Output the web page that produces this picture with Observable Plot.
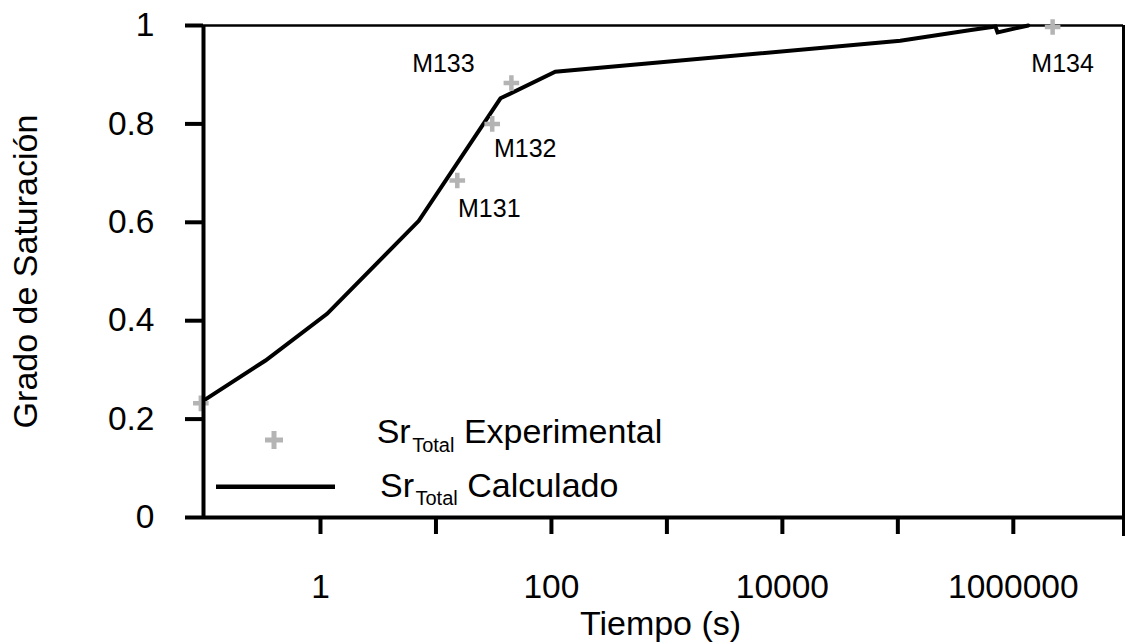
<!DOCTYPE html>
<html><head><meta charset="utf-8">
<script src="https://cdn.jsdelivr.net/npm/d3@7"></script>
<script src="https://cdn.jsdelivr.net/npm/@observablehq/plot@0.6"></script>
<style>
body{margin:0;background:#fff;}
#wrap{position:relative;width:1128px;height:642px;font-family:"Liberation Sans",Arial,sans-serif;}
#wrap svg{display:block;}
#legend{position:absolute;left:0;top:0;pointer-events:none;}
</style></head><body><div id="wrap"></div>
<script>
// Experimental points (time s, saturation)
const expTime = [0.092, 15.3, 30.7, 45, 2.19e6];
const expSr = [0.232, 0.685, 0.80, 0.883, 0.997];
const expLabels = ["", "M131", "M132", "M133", "M134"];
// Calculated curve
const calcTime = [0.092, 0.334, 1.14, 7.1, 36.2, 108, 1.05e5, 4.3e5, 7.0e5, 7.3e5, 1.35e6];
const calcSr = [0.234, 0.319, 0.414, 0.603, 0.852, 0.906, 0.969, 0.991, 0.998, 0.986, 1.0];
// Axes
const xTicks = [1, 10, 100, 1000, 10000, 100000, 1000000];
const xTickLabels = [1, 100, 10000, 1000000];
const yTicks = [0, 0.2, 0.4, 0.6, 0.8, 1];
const xDomain = [0.097, 9.0e6];
const yDomain = [0, 1];
const xTitle = "Tiempo (s)";
const yTitle = "Grado de Saturación";
const legendSeries = ["Experimental", "Calculado"];
const legendPrefix = "Sr";
const legendSub = "Total";

const FONT = '"Liberation Sans", Arial, sans-serif';
const GREY = "#b4b4b4";

const expData = expTime.map((t, i) => ({t, s: expSr[i], label: expLabels[i]}));
const calcData = calcTime.map((t, i) => ({t, s: calcSr[i]}));
const labelOffsets = {M131: [32, 29], M132: [33, 25], M133: [-68, -19], M134: [10, 37]};

const plusSymbol = {
  draw(ctx, size) {
    const r = Math.sqrt(size / Math.PI);
    ctx.moveTo(-r, 0); ctx.lineTo(r, 0);
    ctx.moveTo(0, -r); ctx.lineTo(0, r);
  }
};

const labelMarks = expData.filter(d => d.label).map(d =>
  Plot.text([d], {x: "t", y: "s", text: "label", fontSize: 25, fill: "#000",
    dx: labelOffsets[d.label][0], dy: labelOffsets[d.label][1]}));

const chart = Plot.plot({
  width: 1128, height: 642,
  marginLeft: 203, marginRight: 5, marginTop: 25, marginBottom: 125,
  style: {fontFamily: FONT, fontSize: "33px", background: "#fff", color: "#000", overflow: "visible"},
  x: {type: "log", domain: xDomain},
  y: {domain: yDomain},
  marks: [
    Plot.ruleY([yDomain[1]], {stroke: "#000", strokeWidth: 2.5}),
    Plot.ruleX([xDomain[1]], {stroke: "#000", strokeWidth: 3, insetBottom: -19}),
    Plot.line(calcData, {x: "t", y: "s", stroke: "#000", strokeWidth: 4, strokeLinejoin: "miter", strokeMiterlimit: 4}),
    Plot.dot(expData, {x: "t", y: "s", symbol: plusSymbol, r: 7.8, stroke: GREY, strokeWidth: 4.5, fill: "none"}),
    ...labelMarks,
    Plot.axisY({ticks: yTicks, tickSize: 18, tickPadding: 31, tickFormat: d => String(d),
      fontSize: 33.5, strokeWidth: 4, label: null}),
    Plot.axisX({ticks: xTicks, tickSize: 17, tickPadding: 39.4,
      tickFormat: d => xTickLabels.includes(d) ? String(d) : "", fontSize: 33.5, strokeWidth: 4, label: null}),
    Plot.ruleX([xDomain[0]], {stroke: "#000", strokeWidth: 4}),
    Plot.ruleY([yDomain[0]], {stroke: "#000", strokeWidth: 4}),
    Plot.text([yTitle], {frameAnchor: "left", rotate: -90, dx: -167, textAnchor: "middle", lineAnchor: "bottom", fontSize: 34, fill: "#000"}),
    Plot.text([xTitle], {frameAnchor: "bottom", dy: 117, dx: -3, textAnchor: "middle", lineAnchor: "bottom", fontSize: 34, fill: "#000"})
  ]
});
const wrap = document.getElementById("wrap");
wrap.appendChild(chart);

// Legend overlay (inside plot area, bottom-left)
const lg = d3.select(wrap).append("svg").attr("id", "legend")
  .attr("width", 1128).attr("height", 642)
  .style("font-family", FONT);
lg.append("path").attr("d", "M265,440h18M274,431v18")
  .attr("stroke", GREY).attr("stroke-width", 5).attr("fill", "none");
lg.append("line").attr("x1", 216).attr("x2", 335).attr("y1", 486.7).attr("y2", 486.7)
  .attr("stroke", "#000").attr("stroke-width", 4.5);
const legendPos = [[376.7, 443], [380, 496.7]];
legendSeries.forEach((name, i) => {
  const t = lg.append("text").attr("x", legendPos[i][0]).attr("y", legendPos[i][1])
    .attr("font-size", 34).attr("fill", "#000");
  t.append("tspan").text(legendPrefix);
  t.append("tspan").attr("font-size", 20).attr("dx", 1.5).attr("dy", 8.5).text(legendSub);
  t.append("tspan").attr("dy", -8.5).text(" " + name);
});
</script>
</body></html>
